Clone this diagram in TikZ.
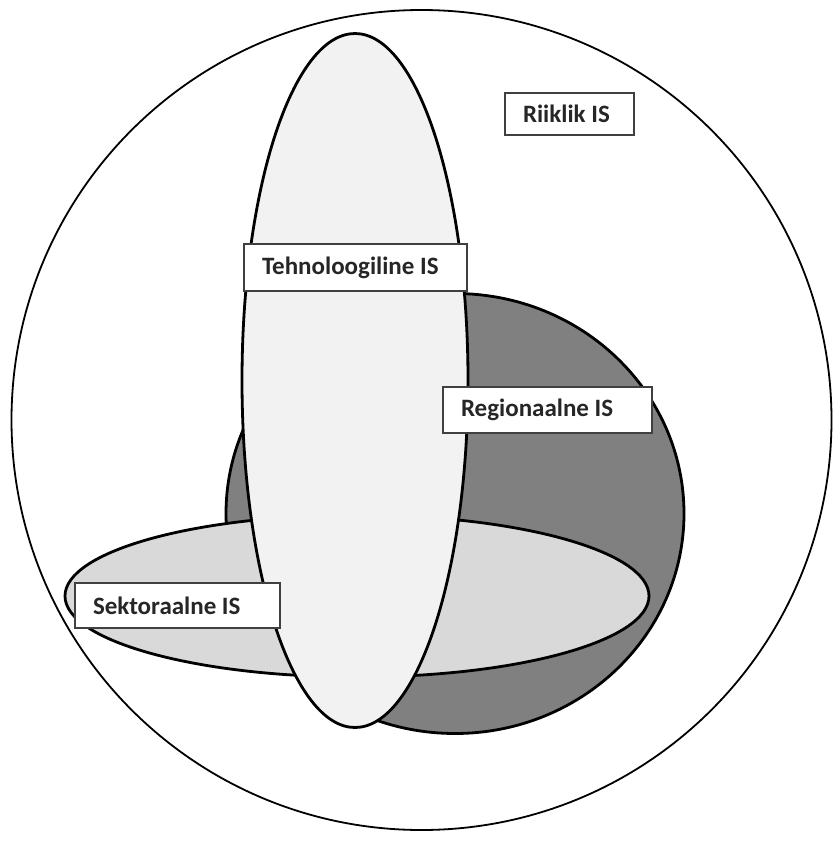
\documentclass[tikz,border=0pt]{standalone}
\usepackage{fontspec}
\setmainfont{Carlito}
\usetikzlibrary{positioning}
\definecolor{techfill}{HTML}{F2F2F2}
\definecolor{sectfill}{HTML}{D9D9D9}
\definecolor{regfill}{HTML}{808080}
\definecolor{boxline}{HTML}{404040}
\tikzset{
  shape line/.style={draw=black, line width=2.8pt},
  label box/.style={draw=boxline, line width=1.3pt, fill=white, inner ysep=0pt, inner xsep=18pt,
    font=\fontsize{25}{29}\selectfont\bfseries, text=black!85}
}
\begin{document}
\begin{tikzpicture}[x=1pt,y=-1pt]
\useasboundingbox (0,0) rectangle (833,846);
% outer circle
\draw[line width=1.8pt] (421.5,420) ellipse [x radius=410, y radius=410];
% regional (dark) circle
\draw[shape line, fill=regfill] (455,513.5) ellipse [x radius=229, y radius=220];
% sectoral ellipse
\draw[shape line, fill=sectfill] (357,596) ellipse [x radius=292, y radius=81];
% technological ellipse
\draw[shape line, fill=techfill] (355,380.5) ellipse [x radius=113, y radius=347];
% labels
\node[label box, minimum height=42pt] (riik) at (569.5,114) {\makebox[93pt][l]{Riiklik IS}};
\node[label box, minimum height=47pt] (tehn) at (355.5,267.5) {\makebox[187pt][l]{Tehnoloogiline IS}};
\node[label box, minimum height=46pt] (regi) at (547.5,410) {\makebox[173pt][l]{Regionaalne IS}};
\node[label box, minimum height=45pt] (sekt) at (177.5,605.5) {\makebox[169pt][l]{Sektoraalne IS}};
\end{tikzpicture}
\end{document}
